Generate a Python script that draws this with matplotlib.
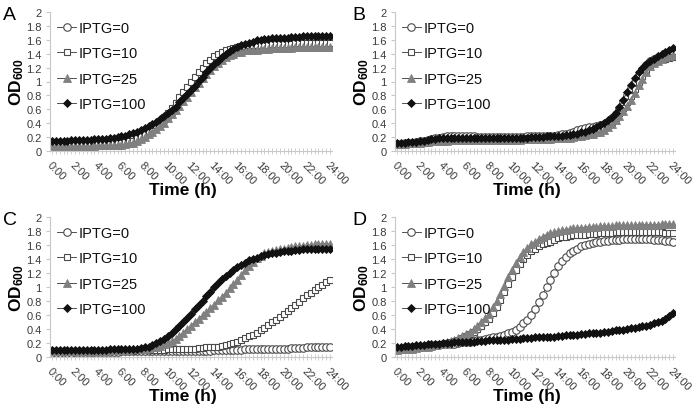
import numpy as np
import matplotlib
matplotlib.use("Agg")
import matplotlib.pyplot as plt

plt.rcParams['font.family'] = ['Liberation Sans', 'DejaVu Sans']
plt.rcParams['mathtext.fontset'] = 'custom'
plt.rcParams['mathtext.rm'] = 'Liberation Sans'
plt.rcParams['mathtext.bf'] = 'Liberation Sans:bold'

# ---- data: OD600 readings every 20 min from 0:00 to 24:00 (73 points) ----
tick_labels = ["0:00", "2:00", "4:00", "6:00", "8:00", "10:00", "12:00",
               "14:00", "16:00", "18:00", "20:00", "22:00", "24:00"]
series_labels = ["IPTG=0", "IPTG=10", "IPTG=25", "IPTG=100"]
panel_letters = ["A", "B", "C", "D"]

A_IPTG0 = [0.08,0.08,0.08, 0.08,0.08,0.08, 0.08,0.08,0.08, 0.08,0.08,0.08, 0.09,0.09,0.09, 0.09,0.09,0.10,
           0.10,0.11,0.12, 0.13,0.16,0.19, 0.22,0.26,0.30, 0.34,0.39,0.44, 0.50,0.56,0.63, 0.70,0.78,0.85,
           0.93,1.00,1.07, 1.13,1.19,1.25, 1.30,1.34,1.38, 1.42,1.44,1.46, 1.48,1.49,1.50, 1.51,1.52,1.52,
           1.53,1.53,1.54, 1.54,1.54,1.55, 1.55,1.55,1.55, 1.56,1.56,1.56, 1.56,1.56,1.56, 1.57,1.57,1.57, 1.57]
A_IPTG10 = [0.09,0.09,0.09, 0.09,0.09,0.09, 0.09,0.09,0.10, 0.10,0.10,0.10, 0.10,0.10,0.10, 0.10,0.11,0.11,
            0.12,0.13,0.14, 0.15,0.18,0.21, 0.25,0.29,0.33, 0.38,0.43,0.49, 0.55,0.62,0.69, 0.77,0.85,0.92,
            1.00,1.07,1.14, 1.20,1.26,1.31, 1.36,1.39,1.42, 1.45,1.47,1.48, 1.50,1.51,1.51, 1.52,1.52,1.53,
            1.53,1.53,1.53, 1.54,1.54,1.54, 1.54,1.54,1.54, 1.55,1.55,1.55, 1.55,1.55,1.55, 1.55,1.55,1.55, 1.55]
A_IPTG25 = [0.07,0.07,0.07, 0.07,0.07,0.07, 0.07,0.07,0.07, 0.07,0.07,0.07, 0.08,0.08,0.08, 0.08,0.08,0.09,
            0.09,0.10,0.11, 0.12,0.14,0.17, 0.20,0.24,0.28, 0.32,0.36,0.41, 0.47,0.53,0.59, 0.65,0.72,0.78,
            0.85,0.92,0.98, 1.05,1.11,1.17, 1.22,1.27,1.31, 1.35,1.38,1.40, 1.42,1.43,1.45, 1.45,1.46,1.46,
            1.47,1.47,1.47, 1.48,1.48,1.48, 1.48,1.48,1.48, 1.49,1.49,1.49, 1.49,1.49,1.49, 1.49,1.49,1.49, 1.49]
A_IPTG100 = [0.15,0.15,0.15, 0.15,0.15,0.16, 0.16,0.16,0.16, 0.16,0.16,0.17, 0.17,0.17,0.17, 0.18,0.19,0.20,
             0.21,0.22,0.24, 0.26,0.28,0.30, 0.33,0.36,0.39, 0.42,0.46,0.50, 0.54,0.59,0.64, 0.70,0.76,0.82,
             0.88,0.94,1.01, 1.07,1.13,1.19, 1.25,1.30,1.35, 1.40,1.44,1.47, 1.50,1.52,1.54, 1.56,1.57,1.59,
             1.60,1.61,1.61, 1.62,1.62,1.63, 1.63,1.63,1.64, 1.64,1.64,1.65, 1.65,1.65,1.66, 1.66,1.66,1.66, 1.66]

B_IPTG0 = [0.10,0.10,0.11, 0.11,0.12,0.13, 0.14,0.15,0.16, 0.17,0.18,0.19, 0.20,0.21,0.21, 0.22,0.22,0.22,
           0.21,0.21,0.21, 0.20,0.20,0.20, 0.20,0.20,0.20, 0.20,0.20,0.20, 0.20,0.20,0.20, 0.20,0.21,0.21,
           0.21,0.21,0.21, 0.22,0.22,0.22, 0.23,0.24,0.25, 0.26,0.28,0.30, 0.32,0.33,0.34, 0.35,0.36,0.37,
           0.39,0.42,0.47, 0.53,0.61,0.70, 0.80,0.90,1.00, 1.09,1.17,1.24, 1.29,1.32,1.35, 1.37,1.39,1.41, 1.42]
B_IPTG10 = [0.09,0.09,0.10, 0.10,0.11,0.11, 0.12,0.12,0.13, 0.14,0.15,0.15, 0.16,0.17,0.17, 0.17,0.17,0.17,
            0.17,0.17,0.17, 0.17,0.17,0.17, 0.17,0.17,0.17, 0.17,0.17,0.17, 0.17,0.17,0.17, 0.18,0.18,0.18,
            0.18,0.18,0.18, 0.18,0.19,0.19, 0.19,0.20,0.20, 0.21,0.21,0.22, 0.23,0.24,0.26, 0.27,0.29,0.31,
            0.33,0.37,0.42, 0.48,0.55,0.62, 0.70,0.79,0.89, 0.99,1.08,1.16, 1.23,1.27,1.30, 1.32,1.33,1.34, 1.35]
B_IPTG25 = [0.10,0.10,0.10, 0.11,0.11,0.12, 0.12,0.13,0.13, 0.14,0.14,0.15, 0.15,0.15,0.16, 0.16,0.16,0.16,
            0.16,0.16,0.16, 0.16,0.16,0.16, 0.16,0.16,0.16, 0.16,0.16,0.16, 0.16,0.16,0.16, 0.17,0.17,0.17,
            0.17,0.17,0.17, 0.17,0.17,0.18, 0.18,0.18,0.19, 0.19,0.20,0.21, 0.22,0.23,0.24, 0.25,0.27,0.28,
            0.30,0.34,0.39, 0.45,0.51,0.58, 0.65,0.74,0.84, 0.95,1.04,1.13, 1.22,1.27,1.30, 1.33,1.35,1.37, 1.38]
B_IPTG100 = [0.12,0.12,0.12, 0.13,0.13,0.13, 0.14,0.15,0.16, 0.17,0.17,0.18, 0.18,0.19,0.19, 0.19,0.19,0.19,
             0.18,0.18,0.18, 0.18,0.18,0.18, 0.18,0.18,0.18, 0.18,0.18,0.19, 0.19,0.19,0.19, 0.19,0.19,0.20,
             0.20,0.20,0.20, 0.21,0.21,0.21, 0.22,0.22,0.23, 0.23,0.24,0.25, 0.27,0.28,0.30, 0.32,0.34,0.37,
             0.40,0.44,0.49, 0.55,0.64,0.74, 0.85,0.95,1.05, 1.14,1.20,1.25, 1.30,1.33,1.36, 1.39,1.42,1.45, 1.48]

C_IPTG0 = [0.06,0.06,0.06, 0.06,0.06,0.06, 0.07,0.07,0.07, 0.07,0.07,0.07, 0.07,0.07,0.07, 0.07,0.07,0.07,
           0.08,0.08,0.08, 0.08,0.08,0.08, 0.08,0.08,0.08, 0.08,0.08,0.08, 0.08,0.08,0.09, 0.09,0.09,0.09,
           0.09,0.09,0.09, 0.09,0.09,0.09, 0.10,0.10,0.10, 0.10,0.10,0.10, 0.10,0.10,0.11, 0.11,0.11,0.11,
           0.11,0.11,0.12, 0.12,0.12,0.12, 0.12,0.12,0.13, 0.13,0.13,0.13, 0.14,0.14,0.14, 0.14,0.14,0.15, 0.15]
C_IPTG10 = [0.08,0.08,0.08, 0.08,0.08,0.08, 0.08,0.08,0.08, 0.08,0.09,0.09, 0.09,0.09,0.09, 0.09,0.09,0.09,
            0.09,0.09,0.09, 0.09,0.10,0.10, 0.10,0.10,0.10, 0.10,0.10,0.10, 0.11,0.11,0.11, 0.11,0.11,0.12,
            0.12,0.12,0.13, 0.13,0.14,0.14, 0.15,0.15,0.16, 0.17,0.18,0.20, 0.22,0.24,0.27, 0.30,0.32,0.35,
            0.38,0.42,0.46, 0.50,0.53,0.57, 0.61,0.66,0.70, 0.75,0.79,0.84, 0.88,0.92,0.96, 1.00,1.03,1.07, 1.10]
C_IPTG25 = [0.09,0.09,0.09, 0.09,0.09,0.09, 0.09,0.09,0.09, 0.09,0.09,0.09, 0.09,0.09,0.09, 0.10,0.10,0.10,
            0.10,0.10,0.10, 0.11,0.11,0.11, 0.12,0.13,0.14, 0.15,0.16,0.18, 0.20,0.23,0.26, 0.30,0.35,0.40,
            0.45,0.50,0.55, 0.60,0.65,0.70, 0.75,0.81,0.86, 0.92,0.98,1.04, 1.10,1.17,1.24, 1.30,1.36,1.41,
            1.45,1.48,1.50, 1.52,1.53,1.54, 1.55,1.56,1.57, 1.58,1.58,1.59, 1.60,1.60,1.61, 1.61,1.62,1.62, 1.62]
C_IPTG100 = [0.10,0.10,0.10, 0.10,0.10,0.10, 0.10,0.10,0.10, 0.10,0.10,0.10, 0.10,0.10,0.10, 0.11,0.11,0.11,
             0.11,0.11,0.11, 0.12,0.12,0.13, 0.14,0.15,0.17, 0.20,0.23,0.26, 0.30,0.35,0.40, 0.45,0.50,0.56,
             0.62,0.68,0.74, 0.80,0.87,0.93, 1.00,1.06,1.11, 1.16,1.20,1.24, 1.28,1.32,1.35, 1.38,1.40,1.42,
             1.44,1.46,1.47, 1.48,1.49,1.50, 1.51,1.52,1.52, 1.53,1.53,1.54, 1.54,1.54,1.54, 1.55,1.55,1.55, 1.55]

D_IPTG0 = [0.12,0.12,0.13, 0.13,0.14,0.14, 0.15,0.15,0.16, 0.16,0.17,0.17, 0.18,0.18,0.19, 0.19,0.20,0.21,
           0.22,0.22,0.23, 0.24,0.25,0.26, 0.27,0.28,0.29, 0.30,0.32,0.34, 0.36,0.39,0.43, 0.48,0.53,0.60,
           0.68,0.78,0.89, 1.00,1.10,1.20, 1.30,1.37,1.43, 1.48,1.52,1.55, 1.58,1.60,1.62, 1.63,1.64,1.65,
           1.66,1.66,1.67, 1.67,1.67,1.68, 1.68,1.68,1.68, 1.68,1.68,1.68, 1.68,1.67,1.67, 1.67,1.66,1.66, 1.65]
D_IPTG10 = [0.12,0.12,0.13, 0.13,0.14,0.14, 0.15,0.15,0.16, 0.16,0.17,0.18, 0.19,0.20,0.21, 0.23,0.25,0.27,
            0.30,0.33,0.36, 0.40,0.45,0.50, 0.55,0.63,0.72, 0.82,0.93,1.04, 1.15,1.24,1.33, 1.40,1.46,1.51,
            1.55,1.58,1.61, 1.63,1.65,1.67, 1.70,1.71,1.72, 1.73,1.74,1.74, 1.75,1.75,1.76, 1.76,1.76,1.77,
            1.77,1.77,1.77, 1.78,1.78,1.78, 1.78,1.78,1.78, 1.78,1.78,1.78, 1.78,1.78,1.78, 1.78,1.77,1.77, 1.77]
D_IPTG25 = [0.10,0.11,0.11, 0.12,0.12,0.13, 0.14,0.14,0.15, 0.16,0.17,0.18, 0.20,0.21,0.23, 0.25,0.27,0.30,
            0.33,0.36,0.40, 0.45,0.50,0.56, 0.62,0.71,0.80, 0.90,1.02,1.14, 1.25,1.34,1.43, 1.50,1.56,1.61,
            1.65,1.69,1.72, 1.75,1.77,1.78, 1.80,1.81,1.82, 1.83,1.84,1.84, 1.85,1.85,1.86, 1.86,1.86,1.87,
            1.87,1.87,1.87, 1.88,1.88,1.88, 1.88,1.88,1.88, 1.89,1.89,1.89, 1.89,1.89,1.89, 1.90,1.90,1.90, 1.90]
D_IPTG100 = [0.15,0.15,0.16, 0.16,0.16,0.17, 0.17,0.17,0.18, 0.18,0.19,0.19, 0.20,0.20,0.20, 0.21,0.21,0.21,
             0.22,0.22,0.22, 0.23,0.23,0.23, 0.24,0.24,0.24, 0.25,0.25,0.25, 0.26,0.26,0.26, 0.27,0.27,0.27,
             0.28,0.28,0.28, 0.29,0.29,0.29, 0.30,0.30,0.31, 0.31,0.32,0.32, 0.33,0.33,0.34, 0.34,0.35,0.35,
             0.36,0.36,0.37, 0.38,0.38,0.39, 0.40,0.41,0.42, 0.43,0.44,0.45, 0.46,0.48,0.50, 0.52,0.55,0.59, 0.63]

panels = [
    [A_IPTG0, A_IPTG10, A_IPTG25, A_IPTG100],
    [B_IPTG0, B_IPTG10, B_IPTG25, B_IPTG100],
    [C_IPTG0, C_IPTG10, C_IPTG25, C_IPTG100],
    [D_IPTG0, D_IPTG10, D_IPTG25, D_IPTG100],
]

# ---- styles ----
styles = [
    dict(marker='o', mfc='white', mec='#4a4a4a', ms=5.4, mew=0.8),
    dict(marker='s', mfc='white', mec='#4a4a4a', ms=5.0, mew=0.8),
    dict(marker='^', mfc='#808080', mec='#808080', ms=5.8, mew=0.6),
    dict(marker='D', mfc='#111111', mec='#111111', ms=4.4, mew=0.6),
]

W, H = 699, 406
fig = plt.figure(figsize=(W / 100, H / 100), dpi=100)

# pixel boxes: (left, top, right, bottom)
boxes = [(50, 13, 332, 152), (395, 13, 675, 152), (50, 218, 332, 358), (395, 218, 675, 358)]
letter_pos = [(3, 16), (352, 16), (3, 221), (352, 221)]
axis_gray = '#c8c8c8'
text_gray = '#3a3a3a'

for k, (box, data) in enumerate(zip(boxes, panels)):
    l, t, r, b = box
    ax = fig.add_axes([l / W, 1 - b / H, (r - l) / W, (b - t) / H])
    n = len(data[0])
    x = np.arange(n)
    for s, (vals, st, lab) in enumerate(zip(data, styles, series_labels)):
        ax.plot(x, vals, color='#333333', lw=0.6, label=lab, **st)
    ax.set_xlim(-0.5, n - 0.5)
    ax.set_ylim(0, 2)
    for sp in ['top', 'right']:
        ax.spines[sp].set_visible(False)
    ax.spines['left'].set_color(axis_gray)
    ax.spines['bottom'].set_color(axis_gray)
    ax.spines['left'].set_linewidth(0.8)
    ax.spines['bottom'].set_linewidth(0.8)
    ax.set_yticks(np.arange(0, 2.01, 0.2))
    ax.set_yticklabels(['0', '0.2', '0.4', '0.6', '0.8', '1', '1.2', '1.4', '1.6', '1.8', '2'])
    ax.tick_params(axis='y', direction='out', length=3, color=axis_gray, labelsize=8,
                   labelcolor=text_gray, pad=3)
    major_idx = np.arange(0, n, 6)
    ax.set_xticks(major_idx)
    ax.set_xticklabels(tick_labels, rotation=-45, ha='left', va='top',
                       rotation_mode='anchor')
    ax.set_xticks(x, minor=True)
    ax.tick_params(axis='x', which='both', direction='inout', length=4, color=axis_gray,
                   width=0.6, labelsize=8, labelcolor=text_gray, pad=4)
    ax.set_xlabel('Time (h)', fontsize=12.5, fontweight='bold')
    ax.xaxis.set_label_coords(0.47, -0.225)
    ax.set_ylabel(r'$\mathbf{OD_{600}}$', fontsize=12.5)
    ax.yaxis.set_label_coords(-0.085, 0.5)
    leg = ax.legend(loc='upper left', bbox_to_anchor=(0.025, 0.935), frameon=False,
                    fontsize=10.5, handlelength=1.3, handletextpad=0.15,
                    labelspacing=0.78, borderpad=0, borderaxespad=0)
    for txt in leg.get_texts():
        txt.set_color('#111111')
    fig.text(letter_pos[k][0] / W, 1 - letter_pos[k][1] / H, panel_letters[k],
             fontsize=14, va='center', ha='left')

fig.savefig('out.png', dpi=100)
